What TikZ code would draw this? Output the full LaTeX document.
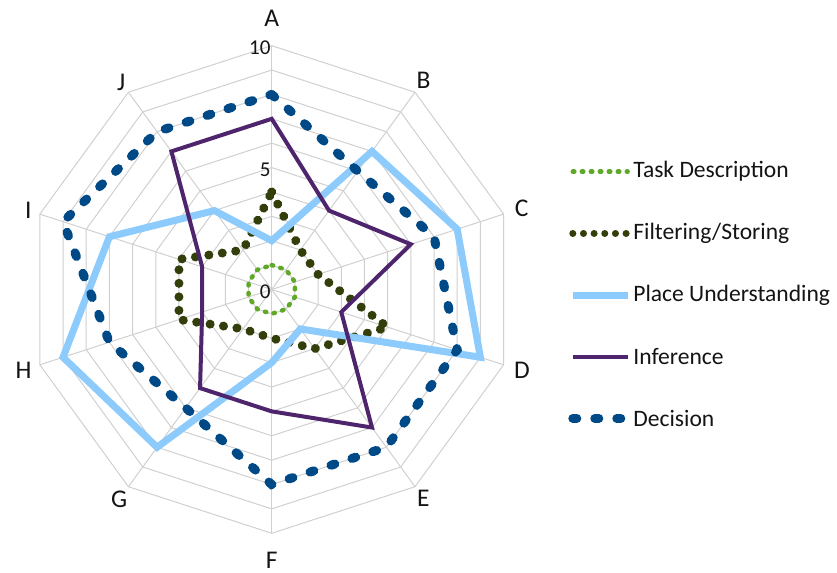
\documentclass[tikz,border=0pt]{standalone}
\usepackage{fontspec}
\setmainfont{Carlito}
\usetikzlibrary{positioning,calc}
\definecolor{gridgray}{RGB}{208,208,208}
\definecolor{taskgreen}{RGB}{96,168,40}
\definecolor{filterolive}{RGB}{51,63,10}
\definecolor{placeblue}{RGB}{140,203,252}
\definecolor{infpurple}{RGB}{78,36,108}
\definecolor{decblue}{RGB}{0,73,135}
\definecolor{textgray}{RGB}{20,20,20}
\tikzset{
  gridline/.style   = {draw=gridgray, line width=0.02cm},
  axislabel/.style  = {inner sep=0pt, text=textgray, font=\fontsize{14.5}{16}\selectfont},
  ticklabel/.style  = {anchor=east, inner sep=0.5pt, text=textgray, font=\fontsize{12}{14}\selectfont},
  legendtext/.style = {anchor=west, inner sep=0pt, text=textgray, font=\fontsize{13.4}{15}\selectfont},
  taskline/.style   = {draw=taskgreen, line width=0.09cm, line cap=round, dash pattern=on 0.03cm off 0.15cm},
  filterline/.style = {draw=filterolive, line width=0.18cm, line cap=round, dash pattern=on 0.001cm off 0.27cm},
  keyfilter/.style  = {filterline, line width=0.14cm, dash pattern=on 0.001cm off 0.212cm},
  placeline/.style  = {draw=placeblue, line width=0.14cm},
  infline/.style    = {draw=infpurple, line width=0.08cm},
  decline/.style    = {draw=decblue, line width=0.18cm, line cap=round, dash pattern=on 0.08cm off 0.36cm}
}
\newcommand{\DrawSeries}[3]{%
  % one point on each of the ten axes
  \foreach \v [count=\k from 0] in {#3}
    \coordinate (#1-\k) at ({90-36*\k}:\v);
  % joins the points into a closed polygon
  \draw[#2] (#1-0) \foreach \k in {1,...,9} {-- (#1-\k)} -- cycle;
}

\begin{document}
\begin{tikzpicture}[x=0.4876cm,y=0.4876cm]
    \useasboundingbox (-11.145,-11.628) rectangle (23.187,11.874);

    % rings and spokes
    \foreach \r in {1,...,10}
      \draw[gridline] (90:\r) \foreach \k in {1,...,9} {-- ({90-36*\k}:\r)} -- cycle;
    \coordinate (ctr) at (0,0);
    \foreach \k in {0,...,9} {
      \coordinate (rim-\k) at ({90-36*\k}:10);
      \draw[gridline] (ctr) -- (rim-\k);
    }

    % axis names
    \foreach \lab/\rr [count=\k from 0] in
      {A/11.14,B/10.6,C/10.78,D/10.79,E/10.58,F/11.1,G/10.65,H/10.7,I/10.5,J/10.5}
      \node[axislabel] (ax\lab) at ({90-36*\k}:\rr) {\lab};

    % scale values
    \foreach \t in {0,5,10}
      \node[ticklabel] (tick\t) at (0,{\t-0.08}) {\t};

    % series
    \DrawSeries{task}{taskline}{1,1,1,1,1,1,1,1,1,1}
    \DrawSeries{filt}{filterline}{4,2,2,5,3,2,2,4,4,2}
    \DrawSeries{place}{placeline}{2,7,8,9,2,3,8,9,7,4}
    \DrawSeries{inf}{infline}{7,4,6,3,7,5,5,3,3,7}
    \DrawSeries{dec}{decline}{8,6,7,8,8,8,6,7,9,8}

    % legend
    \foreach \sty/\txt [count=\k from 0] in
      {taskline/{Task Description},keyfilter/{Filtering/Storing},
       placeline/{Place Understanding},infline/{Inference},decline/{Decision}} {
      \pgfmathsetmacro\ly{4.83-2.53*\k}
      \coordinate (key-\k-a) at (12.35,\ly);
      \coordinate (key-\k-b) at (14.6,\ly);
      \draw[\sty] (key-\k-a) -- (key-\k-b);
      \node[legendtext] (key-\k) at (14.82,\ly) {\txt};
    }
\end{tikzpicture}
\end{document}
